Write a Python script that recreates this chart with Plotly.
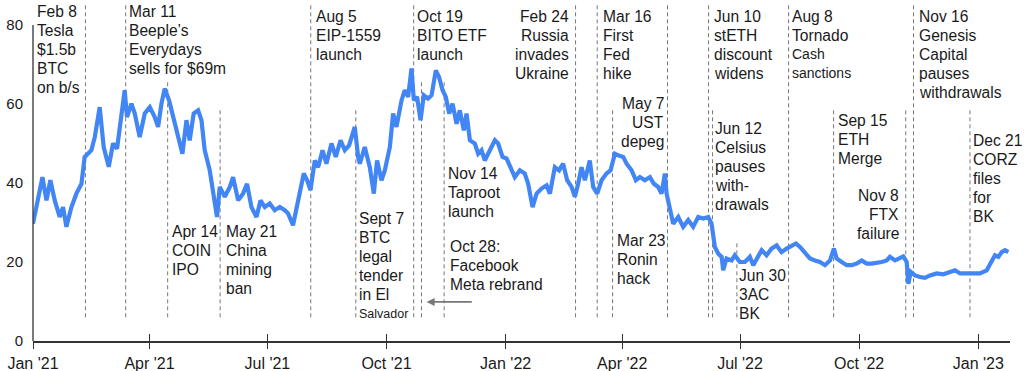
import plotly.graph_objects as go
import pandas as pd

# ---------------- data ----------------
start_date = pd.Timestamp("2021-01-01")

days_since_start = [
    0, 2.6, 7.3, 10.4, 13.4, 16.8, 20.6, 23.2, 25.8, 29.7, 33.5, 37.4, 39.9, 45.1, 47.7,
    51.5, 54.6, 58.5, 61.8, 64.9, 68.3, 70.8, 72.6, 76, 78.6, 82.4, 86.3, 90.2, 94, 96.6,
    99.2, 101.7, 105.1, 108.2, 112, 115.4, 118.5, 121, 124.1, 127.5, 130.1, 132.6, 136.5,
    139.6, 142.1, 144.2, 148.1, 152, 154.5, 158.4, 162.2, 165.3, 168.7, 172.6, 175.7, 179,
    182.8, 186.7, 190.6, 194.4, 197, 200.8, 203.5, 206, 209.1, 211.7, 214.3, 217.6, 220.2,
    223.6, 226.6, 230.5, 233.8, 237.5, 240.8, 244.1, 248.5, 251.1,
    252.4, 256.2, 260.1, 263.2, 265.7, 269.1, 271.7, 275.6, 278.1, 280.7, 284.6, 287.1,
    289.7, 292.3, 294.1, 296.6, 299.3, 301.8, 305.1, 307.8, 311.1, 313.6, 316.3, 318.8,
    321.4, 324, 327.1, 329.6, 332.7, 334.8, 337.4, 341.2, 343.8, 346.4, 348.9, 352.8,
    356.7, 359.2, 362.6, 365.7, 369.6, 372.1, 376, 379.8, 382.4, 385.8, 388.9, 392.7,
    396.6, 399.2, 403, 406.3, 409.4, 412.5, 415.9, 418.5, 421, 423.6, 426.2, 430, 432.6,
    435.7, 439.1, 442.9, 446, 449.4, 451.9, 455.8, 458.4, 462.3, 465.6, 468.7, 472.5,
    476.4, 479.5, 482.8, 485.4, 488, 489.3, 491.8, 494.4, 498.3, 502.1, 506, 509.8, 513.7,
    517.6, 521.5, 524, 526.6, 529.2, 531.8, 533, 535.6, 539.5, 542, 545.9, 549.8, 553.6,
    556.2, 560, 562.7, 566.5, 570.4, 574.3, 578.1, 582, 585.9, 589.2, 592.3, 596.1, 600,
    603.9, 607.7, 611.6, 615.5, 618.5, 620.6, 624.5, 628.4, 632.2, 636.1, 640, 643.8,
    647.7, 651.5, 655.4, 659.3, 661.8, 665.7, 669, 672.1, 674.7, 676, 677.8, 681.1, 685,
    688.8, 692.7, 697.9, 703, 708.1, 712, 716, 721, 726.1, 731.3, 736.5, 740.4, 742.9,
    745.5, 748.1, 750.7, 753.2,
]

values = [
    29.7, 33.9, 41.5, 35.6, 40.7, 35.6, 31.4, 33.9, 28.9, 33.9, 37.3, 39.8, 46.6, 48.3, 51.6,
    59.2, 49.1, 44.1, 50.0, 48.7, 56.7, 63.5, 56.7, 60.1, 57.6, 51.6, 57.6, 59.2, 56.7, 54.2,
    60.1, 63.9, 60.9, 56.7, 52.5, 47.4, 55.9, 50.8, 57.6, 58.4, 55.9, 48.3, 43.2,
    37.3, 31.4, 39.0, 36.5, 39.0, 41.5, 35.6, 37.3, 39.8, 33.9, 31.4, 35.6, 33.9,
    34.8, 33.1, 33.9, 33.1, 32.3, 29.3, 33.9, 37.3, 42.4, 40.7, 38.2, 45.7, 44.0,
    48.3, 44.9, 50.0, 46.6, 50.8, 48.3, 49.5, 54.2, 46.6,
    44.9, 49.1, 44.0, 37.3, 45.7, 40.7, 43.2, 49.1, 57.6, 54.2, 60.9, 63.5,
    61.8, 69.0, 60.9, 61.8, 55.9, 62.2, 61.4, 62.2, 68.5, 66.8, 63.5, 61.8,
    57.6, 60.1, 55.0, 58.4, 53.3, 57.6, 50.8, 50.0, 47.4, 48.3, 45.7, 48.3,
    50.8, 50.0, 46.6, 46.2, 43.2, 41.5, 43.2, 42.4, 39.8, 33.9, 37.3, 38.6,
    39.4, 37.3, 44.0, 43.2, 44.9, 40.7, 39.0, 36.5, 39.8, 44.0, 40.7, 45.7, 39.0,
    37.3, 40.7, 42.4, 43.2, 47.4, 47.0, 46.6, 44.9, 43.2, 40.7, 41.5, 40.7,
    41.5, 39.8, 39.0, 37.3, 42.4, 37.3, 33.1, 29.7, 31.4, 28.9, 30.6, 28.9, 31.4,
    31.0, 31.4, 29.7, 23.8, 22.1, 21.3, 17.9, 20.9, 20.4, 21.7, 20.0, 20.0, 21.3,
    19.2, 21.3, 23.0, 21.7, 23.4, 24.2, 22.5, 23.4, 24.2, 24.7, 23.8, 22.5, 20.9,
    20.4, 20.0, 19.2, 20.4, 23.4, 20.9, 20.0, 19.2, 19.2, 19.6, 20.4, 19.6,
    19.6, 19.7, 20.0, 20.4, 21.3, 20.4, 20.9, 21.4, 20.0, 14.5, 17.5, 16.6, 16.2,
    16.0, 16.6, 17.1, 16.9, 17.5, 17.9, 17.1, 17.1, 16.9, 17.1, 17.9, 20.4, 21.7,
    21.3, 22.5, 23.0, 22.5,
]

tick_dates = ["2021-01-01", "2021-04-01", "2021-07-01", "2021-10-01", "2022-01-01",
              "2022-04-01", "2022-07-01", "2022-10-01", "2023-01-01"]
tick_labels = ["Jan '21", "Apr '21", "Jul '21", "Oct '21", "Jan '22",
               "Apr '22", "Jul '22", "Oct '22", "Jan '23"]
y_ticks = [0, 20, 40, 60, 80]

event_dates = ["2021-02-10 12:00", "2021-03-13 14:00", "2021-04-15", "2021-05-25 12:00",
               "2021-08-03 12:00", "2021-09-07 07:00", "2021-10-22", "2021-10-28",
               "2021-11-14 12:00", "2022-02-24", "2022-03-12 17:00", "2022-03-24 14:00",
               "2022-05-06", "2022-06-06 17:00", "2022-06-09 19:00", "2022-06-28 14:00",
               "2022-08-07 12:00", "2022-09-11 07:00", "2022-11-06", "2022-11-12",
               "2022-12-25 14:00"]
event_labels = [
    ["Feb 8", "Tesla", "$1.5b", "BTC", "on b/s"],
    ["Mar 11", "Beeple’s", "Everydays", "sells for $69m"],
    ["Apr 14", "COIN", "IPO"],
    ["May 21", "China", "mining", "ban"],
    ["Aug 5", "EIP-1559", "launch"],
    ["Sept 7", "BTC", "legal", "tender", "in El", "Salvador"],
    ["Oct 19", "BITO ETF", "launch"],
    ["Oct 28:", "Facebook", "Meta rebrand"],
    ["Nov 14", "Taproot", "launch"],
    ["Feb 24", "Russia", "invades", "Ukraine"],
    ["Mar 16", "First", "Fed", "hike"],
    ["Mar 23", "Ronin", "hack"],
    ["May 7", "UST", "depeg"],
    ["Jun 10", "stETH", "discount", "widens"],
    ["Jun 12", "Celsius", "pauses", "with-", "drawals"],
    ["Jun 30", "3AC", "BK"],
    ["Aug 8", "Tornado", "Cash", "sanctions"],
    ["Sep 15", "ETH", "Merge"],
    ["Nov 8", "FTX", "failure"],
    ["Nov 16", "Genesis", "Capital", "pauses", "withdrawals"],
    ["Dec 21", "CORZ", "files", "for", "BK"],
]

# ---------------- layout of the event marks ----------------
line_bottom = 6.0
line_tops = [85, 85, 66, 58.4, 85, 58.4, 85, 66, 66, 85, 85, 58.4,
             85, 85, 58.4, 25.5, 85, 58.4, 58.4, 85, 58.4]
label_y = [83.3, 83.3, 27.6, 27.6, 82.2, 31.0, 82.2, 24.0, 42.5, 82.2, 82.2, 25.5,
           60.2, 82.2, 53.8, 16.6, 82.2, 55.9, 36.9, 82.2, 50.8]
label_anchor = ["left", "left", "left", "left", "left", "left", "left", "left", "left",
                "right", "left", "left", "right", "left", "left", "left", "left", "left",
                "right", "left", "left"]
label_dx = [-49, 2.5, 3, 5, 4, 2.5, 2, 28, 3, -6, 4.5, 3, -2.5, 4, 1.5, 1.5, 2.5, 3,
            -6, 4, 2.5]
small_lines = {"Salvador": 12.5, "Cash": 14, "sanctions": 14}
arrow_tail = ("2021-12-07", 9.9)
arrow_head = ("2021-11-01", 9.9)

FONT = "Liberation Sans, Arial, sans-serif"
TXT = "#1a1a1a"
LINE_SP = 19

dates = start_date + pd.to_timedelta(days_since_start, unit="D")

fig = go.Figure()
fig.add_trace(go.Scatter(x=dates, y=values, mode="lines",
                         line=dict(color="#4285F4", width=4.2),
                         hoverinfo="skip", showlegend=False))
# helper trace for the second (tick-only) x axis
fig.add_trace(go.Scatter(x=[dates[0]], y=[None], xaxis="x2", mode="markers",
                         marker=dict(opacity=0), hoverinfo="skip", showlegend=False))

shapes = []
for d, top in zip(event_dates, line_tops):
    shapes.append(dict(type="line", xref="x", yref="y", x0=d, x1=d, y0=line_bottom, y1=top,
                       line=dict(color="#777777", width=1, dash="4px,3px"), layer="below"))
# y axis line (only up to 80)
shapes.append(dict(type="line", xref="paper", yref="y", x0=0, x1=0, y0=0, y1=80,
                   line=dict(color="#333333", width=1.3)))

annotations = []
for d, lines, yv, anc, dx in zip(event_dates, event_labels, label_y, label_anchor, label_dx):
    for i, t in enumerate(lines):
        annotations.append(dict(
            x=d, y=yv, xref="x", yref="y", text=t, showarrow=False,
            xanchor=anc, yanchor="middle", xshift=dx, yshift=-LINE_SP * i,
            borderpad=0, align=anc,
            font=dict(family=FONT, size=small_lines.get(t, 15.6), color=TXT)))
annotations.append(dict(
    x=arrow_head[0], y=arrow_head[1], ax=arrow_tail[0], ay=arrow_tail[1],
    xref="x", yref="y", axref="x", ayref="y", text="", showarrow=True,
    arrowhead=2, arrowsize=1, arrowwidth=1.6, arrowcolor="#777777"))

fig.update_layout(
    width=1024, height=371,
    margin=dict(l=33, r=14, t=5, b=30, autoexpand=False),
    paper_bgcolor="white", plot_bgcolor="white",
    font=dict(family=FONT, color=TXT),
    shapes=shapes, annotations=annotations,
    xaxis=dict(type="date", range=["2021-01-01", "2023-01-25 12:00"],
               tickvals=tick_dates, ticktext=tick_labels, automargin=False,
               ticks="outside", ticklen=6, tickwidth=1.3, tickcolor="#333333",
               showline=True, linecolor="#333333", linewidth=1.5,
               showgrid=False, zeroline=False, ticklabelstandoff=1,
               tickfont=dict(family=FONT, size=16, color=TXT)),
    xaxis2=dict(type="date", range=["2021-01-01", "2023-01-25 12:00"],
                overlaying="x", anchor="y", side="bottom", automargin=False,
                tickvals=tick_dates, ticks="inside", ticklen=7, tickwidth=1.3,
                tickcolor="#333333", showticklabels=False, showline=False,
                showgrid=False, zeroline=False),
    yaxis=dict(range=[0, 85.06], tickvals=y_ticks, showgrid=False, zeroline=False,
               showline=False, ticks="", ticklabelstandoff=9, automargin=False,
               tickfont=dict(family=FONT, size=15, color=TXT)),
)

fig.write_html("out.html", config={"displayModeBar": False},
               post_script="document.body.style.margin='0';document.body.style.overflow='hidden';")
